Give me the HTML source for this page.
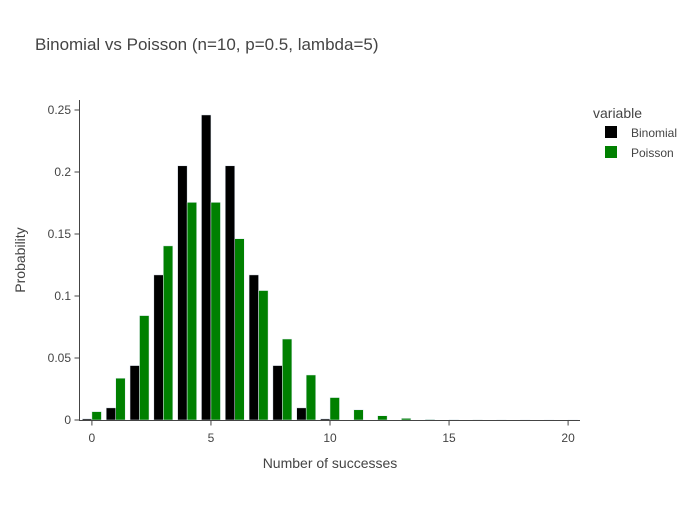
<!DOCTYPE html>
<html><head><meta charset="utf-8"><style>
body{margin:0;background:#fff;font-family:"Liberation Sans",sans-serif}
text{font-family:"Liberation Sans",sans-serif;fill:#444}
</style></head><body>
<svg id="chart" width="700" height="500">
<text x="35" y="50" font-size="17">Binomial vs Poisson (n=10, p=0.5, lambda=5)</text>
<g id="bars"></g>
<g id="axes"></g>
<text x="330" y="468" font-size="14" text-anchor="middle">Number of successes</text>
<text transform="translate(25,260) rotate(-90)" font-size="14" text-anchor="middle">Probability</text>
<g>
<text x="593" y="118" font-size="14">variable</text>
<g><rect x="605" y="126" width="12" height="12" fill="#000"/><text x="631" y="137" font-size="12">Binomial</text></g>
<g><rect x="605" y="146" width="12" height="12" fill="#008000"/><text x="631" y="157" font-size="12">Poisson</text></g>
</g>
</svg>
<script>
const ks=[0,1,2,3,4,5,6,7,8,9,10,11,12,13,14,15,16,17,18,19,20];
const binomial=[0.000977,0.00977,0.0439,0.117,0.205,0.246,0.205,0.117,0.0439,0.00977,0.000977,0,0,0,0,0,0,0,0,0,0];
const poisson=[0.00674,0.0337,0.0842,0.1404,0.1755,0.1755,0.1462,0.1044,0.0653,0.0363,0.0181,0.00824,0.00343,0.00132,0.00047,0.000157,0.000049,0.0000145,0.000004,0.000001,0.0000003];
const xTicks=[0,5,10,15,20];
const yTicks=[0,0.05,0.1,0.15,0.2,0.25];
const yLabels=["0","0.05","0.1","0.15","0.2","0.25"];
const NS="http://www.w3.org/2000/svg";
const X=v=>80+(v+0.5)*500/21;
const Y=v=>420-v*1240;
const bars=document.getElementById('bars'),axes=document.getElementById('axes');
function mk(t,a,p){const e=document.createElementNS(NS,t);for(const k in a)e.setAttribute(k,a[k]);p.appendChild(e);return e;}
const bw=9.5;
ks.forEach((k,i)=>{
 let r=mk('rect',{x:X(k)-bw,y:Y(binomial[i]),width:bw,height:420-Y(binomial[i]),fill:'#000',stroke:'#e5ecf6','stroke-width':0.5},bars);
 
 
 let g=mk('rect',{x:X(k),y:Y(poisson[i]),width:bw,height:420-Y(poisson[i]),fill:'#008000',stroke:'#e5ecf6','stroke-width':0.5},bars);
 
 
});
mk('line',{x1:79.5,y1:100,x2:79.5,y2:420.5,stroke:'#444'},axes);
mk('line',{x1:79,y1:420.5,x2:580,y2:420.5,stroke:'#444'},axes);
xTicks.forEach(v=>{
 mk('line',{x1:X(v),y1:420.5,x2:X(v),y2:425.5,stroke:'#444'},axes);
 const t=mk('text',{x:X(v),y:442,'font-size':12,'text-anchor':'middle'},axes);t.textContent=v;
 
 
});
yTicks.forEach((v,i)=>{
 mk('line',{x1:74.5,y1:Y(v),x2:79.5,y2:Y(v),stroke:'#444'},axes);
 const t=mk('text',{x:71,y:Y(v)+4,'font-size':12,'text-anchor':'end'},axes);t.textContent=yLabels[i];
 
 
});
</script>
</body></html>
